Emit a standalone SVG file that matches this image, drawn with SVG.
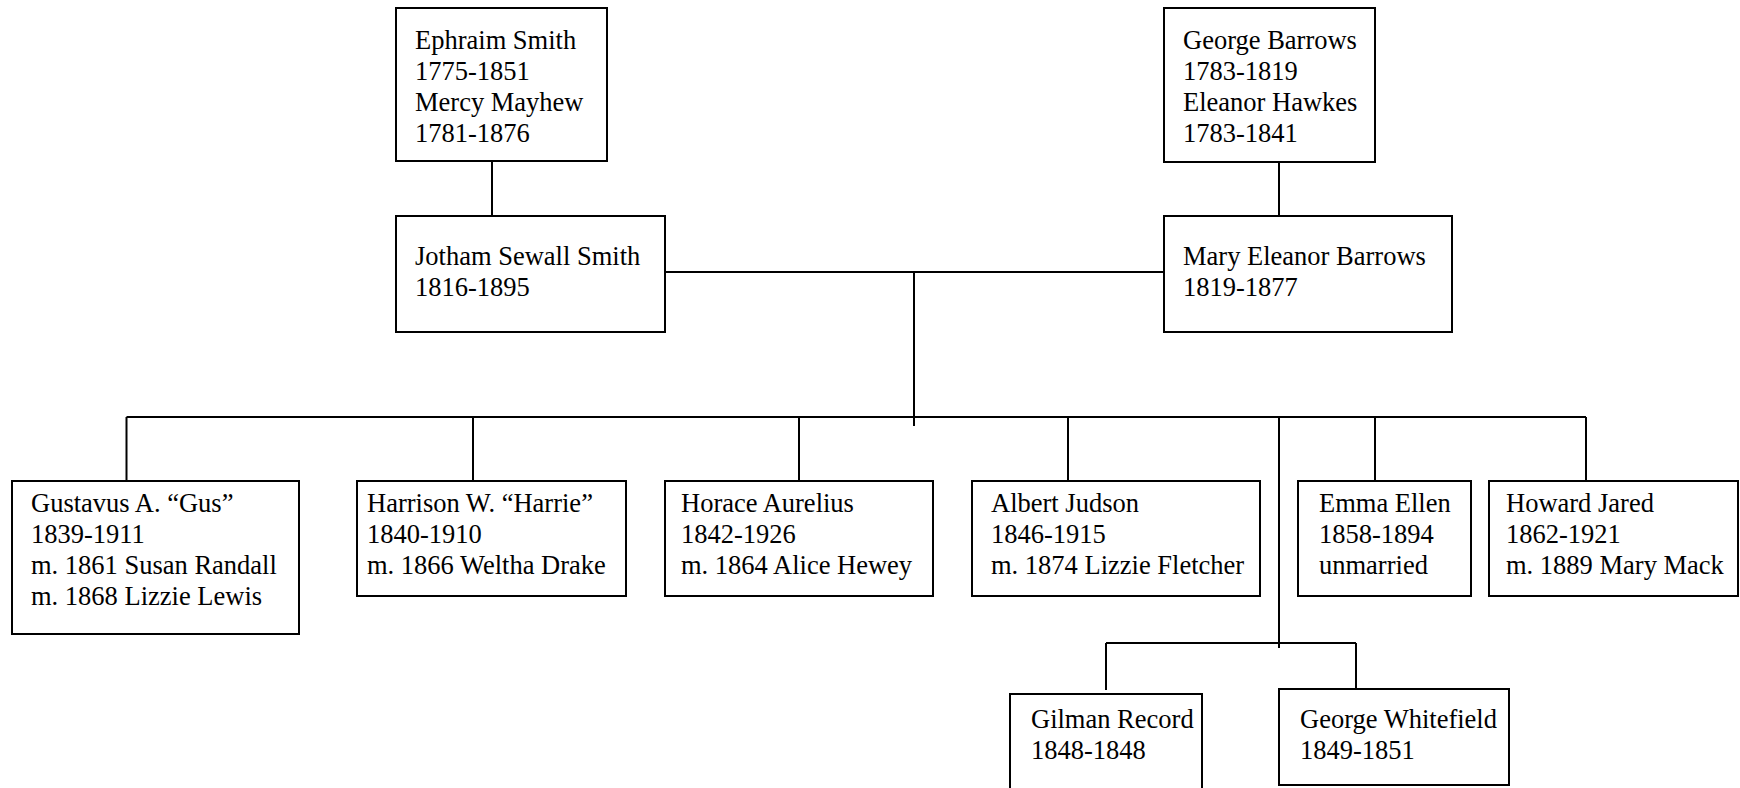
<svg xmlns="http://www.w3.org/2000/svg" width="1740" height="788" viewBox="0 0 1740 788">
<style>
.box{fill:#fff;stroke:#000;stroke-width:2}
.t{font-family:"Liberation Serif","Times New Roman",serif;font-size:26.5px;fill:#000}
.c{fill:none;stroke:#000;stroke-width:2}
</style>
<rect width="1740" height="788" fill="#fff"/>
<g id="connectors">
<path class="c" d="M492,161V216"/>
<path class="c" d="M1279,162V216"/>
<path class="c" d="M665,272H1164"/>
<path class="c" d="M914,272V426"/>
<path class="c" d="M126.5,417H1586"/>
<path class="c" d="M126.5,417V481"/>
<path class="c" d="M473,417V481"/>
<path class="c" d="M799,417V481"/>
<path class="c" d="M1068,417V481"/>
<path class="c" d="M1375,417V481"/>
<path class="c" d="M1586,417V481"/>
<path class="c" d="M1279,417V648"/>
<path class="c" d="M1106,643H1356"/>
<path class="c" d="M1106,643V690"/>
<path class="c" d="M1356,643V689"/>
</g>
<g id="ephraim">
<rect class="box" x="396" y="8" width="211" height="153"/>
<text class="t" x="415" y="49">Ephraim Smith</text>
<text class="t" x="415" y="80">1775-1851</text>
<text class="t" x="415" y="111">Mercy Mayhew</text>
<text class="t" x="415" y="142">1781-1876</text>
</g>
<g id="george">
<rect class="box" x="1164" y="8" width="211" height="154"/>
<text class="t" x="1183" y="49">George Barrows</text>
<text class="t" x="1183" y="80">1783-1819</text>
<text class="t" x="1183" y="111">Eleanor Hawkes</text>
<text class="t" x="1183" y="142">1783-1841</text>
</g>
<g id="jotham">
<rect class="box" x="396" y="216" width="269" height="116"/>
<text class="t" x="415" y="265">Jotham Sewall Smith</text>
<text class="t" x="415" y="296">1816-1895</text>
</g>
<g id="mary">
<rect class="box" x="1164" y="216" width="288" height="116"/>
<text class="t" x="1183" y="265">Mary Eleanor Barrows</text>
<text class="t" x="1183" y="296">1819-1877</text>
</g>
<g id="gus">
<rect class="box" x="12" y="481" width="287" height="153"/>
<text class="t" x="31" y="512">Gustavus A. “Gus”</text>
<text class="t" x="31" y="543">1839-1911</text>
<text class="t" x="31" y="574">m. 1861 Susan Randall</text>
<text class="t" x="31" y="605">m. 1868 Lizzie Lewis</text>
</g>
<g id="harrie">
<rect class="box" x="357" y="481" width="269" height="115"/>
<text class="t" x="367" y="512">Harrison W. “Harrie”</text>
<text class="t" x="367" y="543">1840-1910</text>
<text class="t" x="367" y="574">m. 1866 Weltha Drake</text>
</g>
<g id="horace">
<rect class="box" x="665" y="481" width="268" height="115"/>
<text class="t" x="681" y="512">Horace Aurelius</text>
<text class="t" x="681" y="543">1842-1926</text>
<text class="t" x="681" y="574">m. 1864 Alice Hewey</text>
</g>
<g id="albert">
<rect class="box" x="972" y="481" width="288" height="115"/>
<text class="t" x="991" y="512">Albert Judson</text>
<text class="t" x="991" y="543">1846-1915</text>
<text class="t" x="991" y="574">m. 1874 Lizzie Fletcher</text>
</g>
<g id="emma">
<rect class="box" x="1298" y="481" width="173" height="115"/>
<text class="t" x="1319" y="512">Emma Ellen</text>
<text class="t" x="1319" y="543">1858-1894</text>
<text class="t" x="1319" y="574">unmarried</text>
</g>
<g id="howard">
<rect class="box" x="1489" y="481" width="249" height="115"/>
<text class="t" x="1506" y="512">Howard Jared</text>
<text class="t" x="1506" y="543">1862-1921</text>
<text class="t" x="1506" y="574">m. 1889 Mary Mack</text>
</g>
<g id="gilman">
<rect class="box" x="1010" y="694" width="192" height="120"/>
<text class="t" x="1031" y="728">Gilman Record</text>
<text class="t" x="1031" y="759">1848-1848</text>
</g>
<g id="georgew">
<rect class="box" x="1279" y="689" width="230" height="96"/>
<text class="t" x="1300" y="728">George Whitefield</text>
<text class="t" x="1300" y="759">1849-1851</text>
</g>
</svg>
